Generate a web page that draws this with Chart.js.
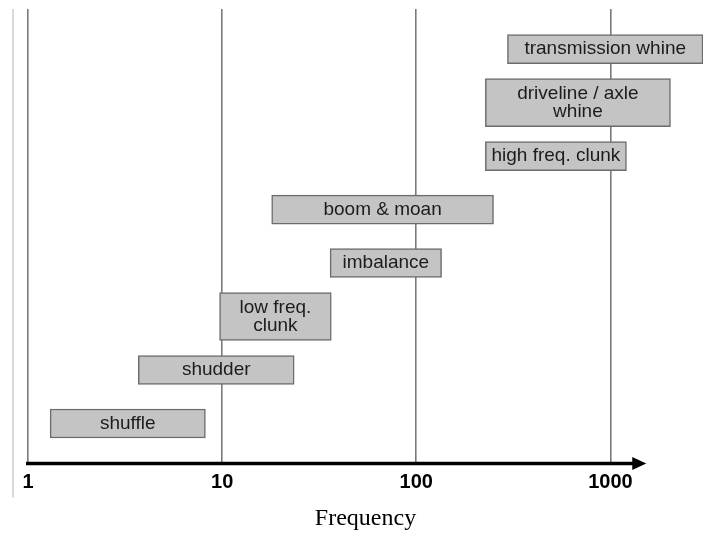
<!doctype html>
<html>
<head>
<meta charset=utf-8>
<title>Frequency ranges</title>
<script src="https://cdn.jsdelivr.net/npm/chart.js@4/dist/chart.umd.min.js"></script>
<style>
  body { margin: 0; background: #fff; }
  #holder { width: 706px; height: 533px; }
</style>
</head>
<body>
<div id="holder"><canvas id="chart"></canvas></div>
<script>
// rows from the bottom up, each label split into its text lines
var categories = [
  ['shuffle'],
  ['shudder'],
  ['low freq.', 'clunk'],
  ['imbalance'],
  ['boom & moan'],
  ['high freq. clunk'],
  ['driveline / axle', 'whine'],
  ['transmission whine']
];
var lowHz  = [1.3, 3.7, 9.7, 36, 18, 227, 227, 295];
var highHz = [8.2, 23.5, 36.5, 135, 250, 1210, 2040, 3000];
var tickValues = [1, 10, 100, 1000];

// one dataset for single-line boxes, one for the taller two-line boxes
function buildSet(lineCount, thickness) {
  var data = [], names = [];
  categories.forEach(function(c, i) {
    if (c.length !== lineCount) return;
    data.push({ x: [lowHz[i], highHz[i]], y: i });
    names.push(c);
  });
  return {
    data: data,
    names: names,
    barThickness: thickness,
    backgroundColor: '#c4c4c4',
    borderColor: '#6c6c6c',
    borderWidth: 1.5,
    borderSkipped: false,
    grouped: false
  };
}

var decor = {
  id: 'decor',
  beforeDraw: function(chart) {
    // faint frame line on the left edge of the slide
    var ctx = chart.ctx, a = chart.chartArea;
    ctx.save();
    ctx.strokeStyle = '#cdcdcd';
    ctx.lineWidth = 1.5;
    ctx.beginPath();
    ctx.moveTo(a.left - 15, a.top);
    ctx.lineTo(a.left - 15, a.bottom + 34);
    ctx.stroke();
    ctx.restore();
  },
  afterDatasetsDraw: function(chart) {
    var ctx = chart.ctx;
    ctx.save();
    ctx.font = '19px "Liberation Sans", Arial, sans-serif';
    ctx.fillStyle = '#1c1c1c';
    ctx.textAlign = 'center';
    ctx.textBaseline = 'middle';
    chart.data.datasets.forEach(function(ds, d) {
      chart.getDatasetMeta(d).data.forEach(function(bar, i) {
        var lines = ds.names[i];
        var cx = (bar.x + bar.base) / 2;
        lines.forEach(function(t, k) {
          ctx.fillText(t, cx, bar.y + (k - (lines.length - 1) / 2) * 18);
        });
      });
    });
    ctx.restore();
  },
  afterDraw: function(chart) {
    // axis line with arrow head
    var ctx = chart.ctx, a = chart.chartArea, xs = chart.scales.x;
    var x0 = xs.getPixelForValue(1) - 2;
    var x1 = xs.getPixelForValue(1530);
    var y = a.bottom;
    ctx.save();
    ctx.strokeStyle = '#000';
    ctx.fillStyle = '#000';
    ctx.lineWidth = 3.5;
    ctx.beginPath();
    ctx.moveTo(x0, y);
    ctx.lineTo(x1 - 10, y);
    ctx.stroke();
    ctx.beginPath();
    ctx.moveTo(x1, y);
    ctx.lineTo(x1 - 14, y - 6.5);
    ctx.lineTo(x1 - 14, y + 6.5);
    ctx.closePath();
    ctx.fill();
    ctx.restore();
  }
};

new Chart(document.getElementById('chart'), {
  type: 'bar',
  data: {
    datasets: [buildSet(1, 29), buildSet(2, 48)]
  },
  options: {
    indexAxis: 'y',
    responsive: true,
    maintainAspectRatio: false,
    animation: false,
    layout: { padding: { left: 28, right: 3, top: 9, bottom: 0 } },
    plugins: {
      legend: { display: false },
      tooltip: { enabled: false }
    },
    scales: {
      x: {
        type: 'logarithmic',
        min: 1,
        max: 3000,
        afterBuildTicks: function(scale) {
          scale.ticks = tickValues.map(function(v) { return { value: v }; });
        },
        grid: { color: '#7a7a7a', lineWidth: 1.6, drawTicks: false },
        border: { display: false },
        ticks: {
          padding: 7,
          color: '#000',
          maxRotation: 0,
          font: { family: '"Liberation Sans", Arial, sans-serif', size: 20, weight: 'bold' },
          callback: function(v) { return String(v); }
        },
        title: {
          display: true,
          text: 'Frequency',
          color: '#000',
          font: { family: '"Liberation Serif", "Times New Roman", serif', size: 24 },
          padding: { top: 2.6, bottom: 0 }
        }
      },
      y: {
        type: 'linear',
        display: false,
        offset: false,
        min: -0.75,
        max: categories.length - 0.25
      }
    }
  },
  plugins: [decor]
});
</script>
</body>
</html>
